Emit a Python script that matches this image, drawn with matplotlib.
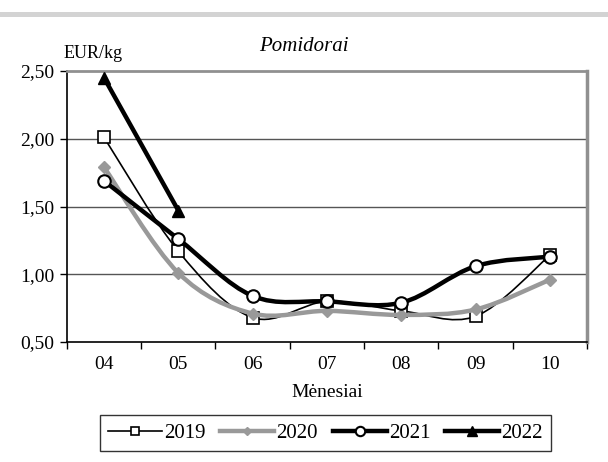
import numpy as np
import matplotlib.pyplot as plt
from matplotlib.path import Path
from matplotlib.patches import PathPatch, Rectangle
from matplotlib.lines import Line2D

plt.rcParams['font.family'] = ['Liberation Serif', 'DejaVu Serif']

months = ['04', '05', '06', '07', '08', '09', '10']
y2019 = [2.01, 1.17, 0.68, 0.80, 0.73, 0.69, 1.14]
y2020 = [1.79, 1.01, 0.71, 0.73, 0.70, 0.74, 0.96]
y2021 = [1.69, 1.26, 0.84, 0.80, 0.79, 1.06, 1.13]
y2022 = [2.45, 1.47]


def smooth_path(xs, ys):
    # excel-like smoothed line: catmull-rom turned into cubic beziers
    pts = np.column_stack([xs, ys]).astype(float)
    verts = [pts[0]]
    codes = [Path.MOVETO]
    n = len(pts)
    for i in range(n - 1):
        p0 = pts[i - 1] if i > 0 else pts[i]
        p1 = pts[i]
        p2 = pts[i + 1]
        p3 = pts[i + 2] if i + 2 < n else pts[i + 1]
        c1 = p1 + (p2 - p0) / 6.0
        c2 = p2 - (p3 - p1) / 6.0
        verts += [c1, c2, p2]
        codes += [Path.CURVE4] * 3
    return Path(verts, codes)


fig = plt.figure(figsize=(6.08, 4.62), dpi=100)
fig.patches.append(Rectangle((0, 0.963), 1, 0.011, transform=fig.transFigure,
                             facecolor='#d3d3d3', edgecolor='none'))
ax = fig.add_axes([0.110, 0.2597, 0.8555, 0.5866])

series = [
    (y2019, '2019', 'black', 1.2, dict(marker='s', markersize=8, markerfacecolor='white',
                                        markeredgecolor='black', markeredgewidth=1.2)),
    (y2020, '2020', '#999999', 3.2, dict(marker='D', markersize=6, markerfacecolor='#999999',
                                          markeredgecolor='#999999')),
    (y2021, '2021', 'black', 3.2, dict(marker='o', markersize=9, markerfacecolor='white',
                                        markeredgecolor='black', markeredgewidth=1.5)),
    (y2022, '2022', 'black', 3.2, dict(marker='^', markersize=9, markerfacecolor='black',
                                        markeredgecolor='black')),
]

handles = []
for z, (vals, name, col, lw, mk) in enumerate(series):
    xs = np.arange(len(vals))
    ax.add_patch(PathPatch(smooth_path(xs, vals), facecolor='none', edgecolor=col,
                           linewidth=lw, zorder=3 + 2 * z, capstyle='round', joinstyle='round'))
    ax.plot(xs, vals, linestyle='none', zorder=4 + 2 * z, **mk)
    handles.append(Line2D([], [], color=col, linewidth=lw, **mk))

ax.set_xlim(-0.5, 6.5)
ax.set_ylim(0.5, 2.5)
ax.set_yticks([0.5, 1.0, 1.5, 2.0, 2.5])
ax.set_yticklabels(['0,50', '1,00', '1,50', '2,00', '2,50'], fontsize=14)
ax.set_xticks(np.arange(len(months)))
ax.set_xticklabels(months, fontsize=14)
ax.set_xticks(np.arange(-0.5, 7, 1), minor=True)
ax.tick_params(axis='x', which='major', length=0, pad=10)
ax.tick_params(axis='x', which='minor', length=5, width=1, direction='out')
ax.tick_params(axis='y', length=5, width=1, direction='out', pad=4)

for v in [1.0, 1.5, 2.0]:
    ax.axhline(v, color='#555555', linewidth=1, zorder=1)
ax.spines['top'].set_color('#909090')
ax.spines['top'].set_linewidth(2)
ax.spines['right'].set_color('#909090')
ax.spines['right'].set_linewidth(2.5)
ax.spines['left'].set_linewidth(1.2)
ax.spines['bottom'].set_linewidth(1.2)

ax.set_xlabel('Mėnesiai', fontsize=14, labelpad=8)
fig.text(0.50, 0.90, 'Pomidorai', fontsize=15, style='italic', ha='center', va='center')
fig.text(0.105, 0.885, 'EUR/kg', fontsize=13, ha='left', va='center')

leg = fig.legend(handles, ['2019', '2020', '2021', '2022'], loc='center',
                 bbox_to_anchor=(0.535, 0.0627), ncol=4, fontsize=15, frameon=True,
                 fancybox=False, handlelength=2.6, handletextpad=0.1, columnspacing=0.7,
                 borderpad=0.4, markerscale=0.75)
leg.get_frame().set_edgecolor('black')
leg.get_frame().set_linewidth(1)

fig.savefig('out.png', dpi=100)
